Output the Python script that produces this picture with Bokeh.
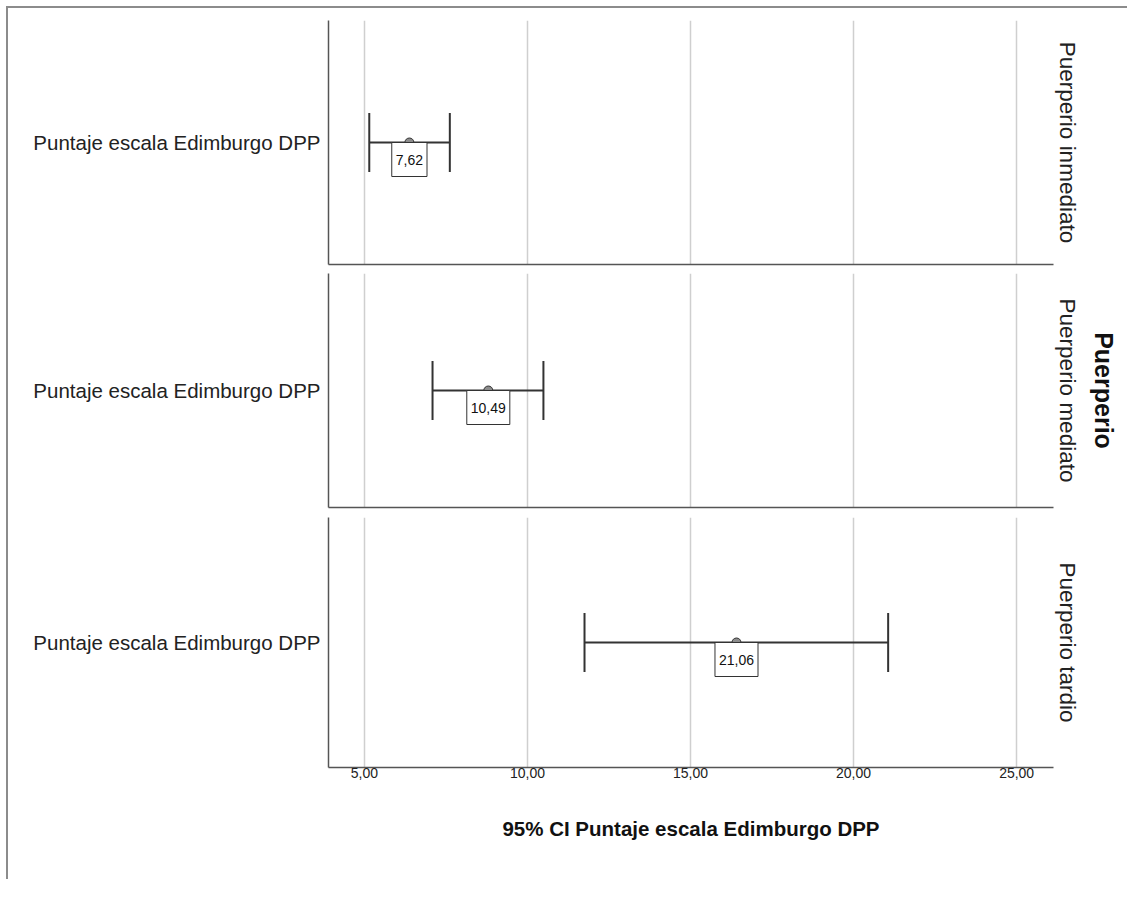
from bokeh.plotting import figure
from bokeh.layouts import column
from bokeh.models import FactorRange, Range1d, FixedTicker, Title, ColumnDataSource
from bokeh.embed import file_html
from bokeh.resources import INLINE
from bokeh.core.properties import value

# ---- data ----
measure = "Puntaje escala Edimburgo DPP"
groups = ["Puerperio inmediato", "Puerperio mediato", "Puerperio tardio"]
means = [6.38, 8.80, 16.41]
lower = [5.15, 7.09, 11.75]
upper = [7.62, 10.49, 21.06]
upper_labels = ["7,62", "10,49", "21,06"]
x_ticks = [5, 10, 15, 20, 25]
x_tick_labels = ["5,00", "10,00", "15,00", "20,00", "25,00"]
facet_title = "Puerperio"
x_title = "95% CI Puntaje escala Edimburgo DPP"

FONT = "Liberation Sans"
AX = "#555555"
INK = "#333333"

frame_heights = [244, 234, 250]
tops = [12, 5, 6]
bottoms = [4, 4, 112]

figs = []
for i, g in enumerate(groups):
    h = tops[i] + frame_heights[i] + bottoms[i]
    p = figure(width=1119, height=h, output_backend="svg", toolbar_location=None,
               x_range=Range1d(3.9, 26.13), y_range=FactorRange(factors=[measure]),
               min_border_left=320, min_border_right=74,
               min_border_top=tops[i], min_border_bottom=bottoms[i])
    p.outline_line_color = None
    p.background_fill_color = "white"
    p.border_fill_color = "white"
    p.ygrid.grid_line_color = None
    p.xgrid.grid_line_color = "#cfcfcf"
    p.xgrid.grid_line_width = 1.5
    p.xgrid.ticker = FixedTicker(ticks=x_ticks)
    p.xaxis.axis_line_color = AX
    p.xaxis.axis_line_width = 1.5
    p.xaxis.major_tick_out = 0
    p.xaxis.major_tick_in = 0
    p.xaxis.minor_tick_out = 0
    p.xaxis.minor_tick_in = 0
    p.xaxis.major_label_text_font = FONT
    p.xaxis.major_label_text_color = "#222222"
    if i < 2:
        p.xaxis.ticker = FixedTicker(ticks=[])
        p.xaxis.major_label_standoff = 0
    else:
        p.xaxis.ticker = FixedTicker(ticks=x_ticks)
        p.xaxis.major_label_overrides = {t: l for t, l in zip(x_ticks, x_tick_labels)}
        p.xaxis.major_label_text_font_size = "14px"
        p.xaxis.major_label_standoff = 0
        p.xaxis.axis_label = x_title
        p.xaxis.axis_label_text_font = FONT
        p.xaxis.axis_label_text_font_style = "bold"
        p.xaxis.axis_label_text_font_size = "20.5px"
        p.xaxis.axis_label_text_color = "#111111"
        p.xaxis.axis_label_standoff = 36

    p.yaxis.axis_line_color = AX
    p.yaxis.axis_line_width = 1.5
    p.yaxis.major_tick_out = 0
    p.yaxis.major_tick_in = 0
    p.yaxis.major_label_standoff = 8
    p.yaxis.major_label_text_font = FONT
    p.yaxis.major_label_text_font_size = "20.5px"
    p.yaxis.major_label_text_color = "#222222"

    src = ColumnDataSource(dict(y=[measure], lo=[lower[i]], hi=[upper[i]],
                                m=[means[i]], lab=[upper_labels[i]]))
    p.segment(x0="lo", y0="y", x1="hi", y1="y", source=src, line_color=INK, line_width=2)
    p.scatter(x="lo", y="y", source=src, marker="dash", angle=1.5708, size=59,
              line_color=INK, line_width=2)
    p.scatter(x="hi", y="y", source=src, marker="dash", angle=1.5708, size=59,
              line_color=INK, line_width=2)
    p.scatter(x="m", y="y", source=src, marker="circle", size=9,
              fill_color="#8c8c8c", line_color=INK, line_width=1)
    p.text(x="m", y="y", text="lab", source=src, text_align="center", text_baseline="top",
           y_offset=0, text_font=value(FONT), text_font_size="14px", text_color="#111111",
           background_fill_color="white", border_line_color=INK, border_line_width=1,
           padding=(4, 4, 12, 12))

    p.add_layout(Title(text=g, align="center", text_font=FONT, text_font_size="22.5px",
                       text_font_style="normal", text_color="#222222", standoff=2), "right")
    if i == 1:
        p.add_layout(Title(text=facet_title, align="center", text_font=FONT,
                           text_font_size="25px", text_font_style="bold",
                           text_color="#111111", standoff=15), "right")
    figs.append(p)

layout = column(*figs, spacing=0,
                styles={"border-top": "2px solid #8c8c8c", "border-left": "2px solid #8c8c8c",
                        "margin-left": "6px", "margin-top": "6px"})
open("out.html", "w").write(file_html(layout, INLINE))
